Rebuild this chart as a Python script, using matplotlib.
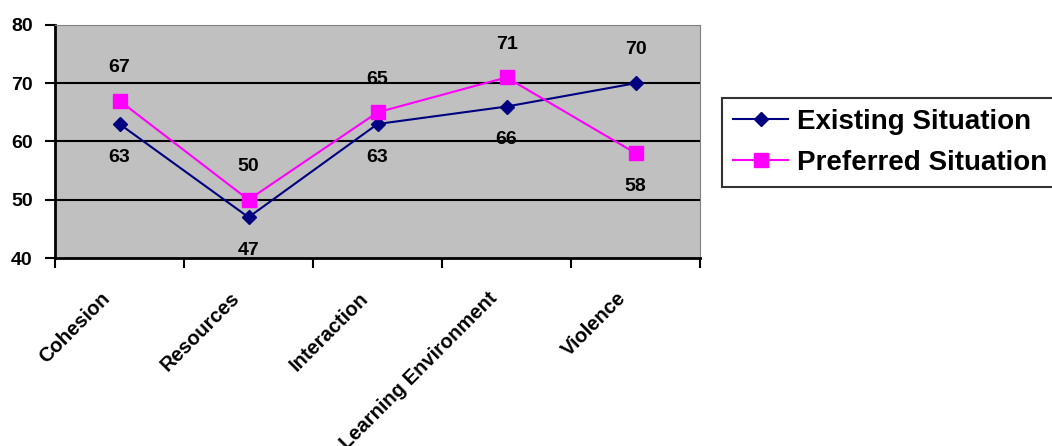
import matplotlib
matplotlib.use('Agg')
import matplotlib.pyplot as plt
import matplotlib.transforms as mtransforms
import numpy as np

plt.rcParams['font.family'] = ['Liberation Sans', 'DejaVu Sans']

categories = ['Cohesion', 'Resources', 'Interaction', 'Learning Environment', 'Violence']
existing = [63, 47, 63, 66, 70]
preferred = [67, 50, 65, 71, 58]
# label side for each point: 1 above, -1 below
existing_side = [-1, -1, -1, -1, 1]
preferred_side = [1, 1, 1, 1, -1]

fig = plt.figure(figsize=(10.52, 4.46), dpi=100)
ax = fig.add_axes([0.0523, 0.4215, 0.6131, 0.5225])
ax.set_facecolor('#C0C0C0')

x = np.arange(len(categories))
l1, = ax.plot(x, existing, color='#000080', marker='D', markersize=7, lw=1.5,
              label='Existing Situation', zorder=3)
l2, = ax.plot(x, preferred, color='#FF00FF', marker='s', markersize=10, lw=1.5,
              label='Preferred Situation', zorder=4)

for xs, ys, side in [(x, existing, existing_side), (x, preferred, preferred_side)]:
    for xi, yi, s in zip(xs, ys, side):
        ax.annotate(str(yi), (xi, yi), xytext=(0, 24 * s), textcoords='offset points',
                    ha='center', va='center', fontsize=14, fontweight='bold')

ax.set_xlim(-0.5, len(categories) - 0.5)
ax.set_ylim(40, 80)
ax.set_yticks([40, 50, 60, 70, 80])
for yv in [50, 60, 70]:
    ax.axhline(yv, color='black', lw=1.5, zorder=1)

ax.set_xticks(np.arange(-0.5, len(categories), 1.0))
ax.set_xticklabels([])
ax.set_xticks(x, minor=True)
ax.set_xticklabels(categories, minor=True, rotation=45, ha='right',
                   rotation_mode='anchor', fontsize=14.5, fontweight='bold')
ax.tick_params(axis='x', which='minor', length=0, pad=22)
ax.tick_params(axis='x', which='major', length=7, width=1.5, direction='out')
ax.tick_params(axis='y', length=7, width=1.5, direction='out', labelsize=14, pad=9)
for lab in ax.get_yticklabels():
    lab.set_fontweight('bold')
shift = mtransforms.ScaledTranslation(-19 / 100, 0, fig.dpi_scale_trans)
for lab in ax.get_xticklabels(minor=True):
    lab.set_transform(lab.get_transform() + shift)

ax.spines['left'].set_linewidth(2)
ax.spines['bottom'].set_linewidth(2)
ax.spines['top'].set_color('#808080')
ax.spines['right'].set_color('#808080')

leg = fig.legend(handles=[l1, l2], loc='upper left', bbox_to_anchor=(0.686, 0.781),
                 frameon=True, fancybox=False, edgecolor='black',
                 prop={'weight': 'bold', 'size': 20}, handlelength=2.0,
                 borderpad=0.4, labelspacing=0.55, handletextpad=0.3,
                 borderaxespad=0)
leg.get_frame().set_linewidth(1.5)

fig.savefig('out.png', dpi=100)
